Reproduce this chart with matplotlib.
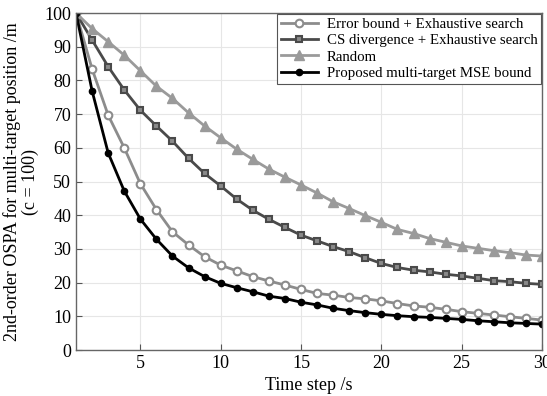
import matplotlib.pyplot as plt

plt.rcParams['font.family'] = ['Liberation Serif', 'DejaVu Serif']

steps = list(range(1, 31))

error_bound = [100, 83.4, 69.7, 60.0, 49.4, 41.7, 35.1, 31.2, 27.7, 25.2,
               23.5, 21.8, 20.5, 19.3, 18.0, 16.8, 16.3, 15.6, 15.2, 14.6,
               13.8, 13.1, 12.7, 12.1, 11.4, 10.9, 10.4, 9.9, 9.4, 8.9]
cs_divergence = [100, 92.0, 84.1, 77.2, 71.2, 66.5, 62.0, 56.9, 52.4, 48.7,
                 44.8, 41.5, 38.8, 36.4, 34.1, 32.4, 30.7, 29.2, 27.4, 25.7,
                 24.5, 23.7, 23.2, 22.5, 22.0, 21.3, 20.6, 20.3, 19.8, 19.5]
random_sel = [100, 95.4, 91.5, 87.5, 82.9, 78.3, 74.7, 70.4, 66.5, 63.0,
              59.6, 56.6, 53.7, 51.3, 49.0, 46.6, 44.0, 42.0, 39.9, 37.9,
              35.8, 34.6, 33.1, 32.0, 30.9, 30.2, 29.5, 28.9, 28.2, 27.9]
proposed = [100, 76.9, 58.5, 47.2, 38.9, 32.9, 27.9, 24.4, 21.8, 19.8,
            18.5, 17.3, 16.0, 15.3, 14.2, 13.4, 12.4, 11.7, 11.1, 10.6,
            10.2, 9.9, 9.7, 9.4, 9.1, 8.7, 8.4, 8.1, 7.9, 7.7]

labels = ["Error bound + Exhaustive search",
          "CS divergence + Exhaustive search",
          "Random",
          "Proposed multi-target MSE bound"]

fig = plt.figure(figsize=(5.47, 3.96), dpi=100)
ax = fig.add_axes([0.139, 0.116, 0.852, 0.851])

ax.plot(steps, error_bound, color='#8c8c8c', lw=2, marker='o', ms=5.5,
        mfc='white', mec='#8c8c8c', mew=1.5, label=labels[0])
ax.plot(steps, cs_divergence, color='#4a4a4a', lw=2, marker='s', ms=5,
        mfc='#8a8a8a', mec='#4a4a4a', mew=1.5, label=labels[1])
ax.plot(steps, random_sel, color='#9a9a9a', lw=2, marker='^', ms=7,
        mfc='#9a9a9a', mec='#9a9a9a', label=labels[2])
ax.plot(steps, proposed, color='black', lw=2, marker='o', ms=4.5,
        mfc='black', mec='black', label=labels[3])

ax.set_xlim(1, 30)
ax.set_ylim(0, 100)
ax.set_xticks([5, 10, 15, 20, 25, 30])
ax.set_yticks(range(0, 101, 10))
ax.tick_params(labelsize=13, direction='in', length=4, color='#555555')
ax.grid(True, color='#e6e6e6', lw=0.8)
for s in ax.spines.values():
    s.set_color('#666666')
    s.set_linewidth(1.0)

ax.set_xlabel("Time step /s", fontsize=13)
ax.set_ylabel("2nd-order OSPA for multi-target position /m\n(c = 100)",
              fontsize=13, linespacing=1.0)

leg = ax.legend(loc='upper right', fontsize=10.7, fancybox=False,
                edgecolor='#555555', framealpha=1, borderpad=0.25,
                labelspacing=0.2, handlelength=2.5, handletextpad=0.6,
                borderaxespad=0.05)
leg.get_frame().set_linewidth(0.8)

fig.savefig("out.png", dpi=100)
